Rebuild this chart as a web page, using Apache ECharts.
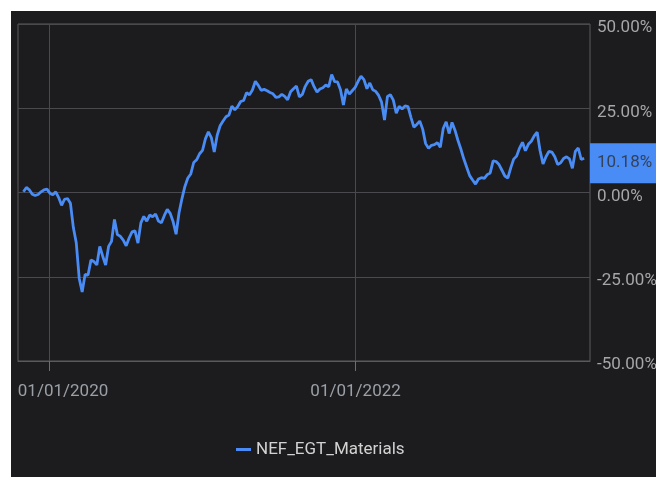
<!DOCTYPE html>
<html>
<head>
<meta charset="utf-8">
<script src="https://cdn.jsdelivr.net/npm/echarts@6/dist/echarts.min.js"></script>
<style>
  html, body { margin: 0; padding: 0; background: #ffffff; }
  #chart { position: absolute; left: 11px; top: 11px; width: 645px; height: 466px; }
</style>
</head>
<body>
<div id="chart"></div>
<script>
// Weekly cumulative return (%) of the materials index, starting 1 Nov 2019
const seriesName = 'NEF_EGT_Materials';
const startDate = [2019, 10, 1];
const returns = [
  0.2, 1.5, 0.8, -0.5, -0.9, -0.6, 0.2, 0.8, 1.0, -0.2,
  -0.7, 0.2, -1.5, -3.8, -2.0, -1.8, -3.2, -10.4, -15.0, -25.5,
  -29.5, -24.3, -24.5, -20.0, -20.5, -21.5, -16.0, -18.9, -21.5, -16.0,
  -14.5, -8.0, -12.5, -13.0, -14.1, -15.8, -13.5, -11.7, -11.4, -15.0,
  -9.0, -7.1, -8.5, -6.7, -7.2, -6.4, -8.5, -9.0, -6.8, -5.0,
  -6.2, -8.7, -12.4, -6.0, -1.8, 1.8, 4.3, 5.5, 8.9, 9.7,
  11.5, 12.5, 16.0, 18.0, 16.3, 12.0, 17.0, 19.8, 21.2, 22.5,
  23.0, 25.6, 24.5, 25.5, 27.0, 27.3, 29.6, 29.0, 30.4, 33.0,
  31.8, 30.3, 30.6, 30.2, 29.7, 29.3, 28.2, 28.4, 29.1, 28.5,
  27.5, 29.9, 30.8, 31.6, 28.4, 29.1, 31.5, 33.0, 33.5, 31.4,
  29.8, 30.7, 31.1, 31.9, 31.4, 35.0, 32.9, 32.8, 30.5, 26.0,
  30.7, 29.2, 30.2, 31.2, 33.0, 34.5, 33.5, 30.8, 32.5, 30.5,
  30.0, 28.8, 26.8, 21.5, 28.5, 29.0, 27.4, 23.5, 25.6, 24.8,
  25.7, 25.5, 22.3, 19.4, 20.2, 21.2, 18.8, 14.5, 13.1, 14.0,
  14.2, 14.8, 13.4, 19.0, 21.0, 17.5, 20.8, 18.5, 15.5, 12.9,
  10.0, 7.5, 5.0, 3.7, 2.5, 4.0, 4.4, 4.2, 5.3, 5.8,
  9.4, 9.2, 8.3, 6.6, 4.9, 4.3, 7.3, 9.9, 10.8, 13.2,
  14.9, 12.4, 14.3, 15.2, 16.8, 17.9, 12.4, 8.5, 10.6, 12.2,
  12.0, 10.6, 8.3, 8.8, 10.1, 10.6, 10.0, 7.2, 12.2, 13.2,
  9.8, 10.18
];

// Axis range and labelled dates
const axisStart = [2019, 9, 19];
const axisEnd = [2023, 6, 14];
const tickDates = [[2020, 0, 1], [2022, 0, 1]];
const yTicks = { min: -50, max: 50, step: 25 };

const ts = (d, addDays) => new Date(d[0], d[1], d[2] + (addDays || 0)).getTime();
const points = returns.map((v, i) => [ts(startDate, i * 7), v]);
const tickValues = tickDates.map(d => ts(d));
const lastValue = returns[returns.length - 1];

const FONT = "Roboto, 'Liberation Sans', sans-serif";
const pad2 = n => (n < 10 ? '0' : '') + n;
const fmtDate = v => {
  const d = new Date(v);
  return pad2(d.getDate()) + '/' + pad2(d.getMonth() + 1) + '/' + d.getFullYear();
};

const chart = echarts.init(document.getElementById('chart'), null, { renderer: 'canvas' });
chart.setOption({
  backgroundColor: '#1c1c1e',
  animation: false,
  grid: {
    left: 7, top: 13, right: 66, bottom: 116,
    outerBoundsMode: 'none',
    containLabel: false,
    show: true, borderColor: '#5a5a5e', borderWidth: 1
  },
  legend: {
    left: 220, top: 425,
    icon: 'rect', itemWidth: 15, itemHeight: 3, itemGap: 10,
    textStyle: { color: '#d2d2d2', fontFamily: FONT, fontSize: 17 },
    data: [seriesName]
  },
  xAxis: {
    type: 'value',
    min: ts(axisStart), max: ts(axisEnd),
    axisLine: { show: true, onZero: false, lineStyle: { color: '#5a5a5e', width: 1 } },
    axisTick: { show: true, inside: false, customValues: tickValues, length: 10, lineStyle: { color: '#6e6e72', width: 1 } },
    splitLine: { show: true, lineStyle: { color: '#4a4a4e', width: 1 } },
    axisLabel: {
      customValues: tickValues,
      margin: 22,
      color: '#9aa0a6', fontFamily: FONT, fontSize: 17,
      formatter: v => (v === tickValues[0] ? '{first|' + fmtDate(v) + '}' : fmtDate(v)),
      rich: { first: { padding: [0, 0, 0, 28], color: '#9aa0a6', fontFamily: FONT, fontSize: 17 } }
    }
  },
  yAxis: {
    type: 'value', position: 'right',
    min: yTicks.min, max: yTicks.max, interval: yTicks.step,
    axisLine: { show: false },
    axisTick: { show: false },
    splitLine: { show: true, lineStyle: { color: '#4a4a4e', width: 1 } },
    axisLabel: {
      margin: 7, color: '#a6a6a8', fontFamily: FONT, fontSize: 17,
      verticalAlign: 'top', lineHeight: 8,
      formatter: v => v.toFixed(2) + '%'
    }
  },
  series: [{
    name: seriesName,
    type: 'line',
    data: points,
    showSymbol: false,
    symbol: 'none',
    lineStyle: { color: '#4a8cf5', width: 2.8 },
    itemStyle: { color: '#4a8cf5' },
    markLine: {
      silent: true,
      symbol: 'none',
      lineStyle: { color: 'rgba(0,0,0,0)', width: 0 },
      data: [{ yAxis: lastValue }],
      label: {
        show: true, position: 'end', distance: 0,
        offset: [0, 5],
        backgroundColor: '#4a8cf5',
        color: '#34415a', fontFamily: FONT, fontSize: 17,
        padding: [12, 6, 11, 7],
        formatter: p => Number(p.value).toFixed(2) + '%'
      }
    }
  }]
});
</script>
</body>
</html>
